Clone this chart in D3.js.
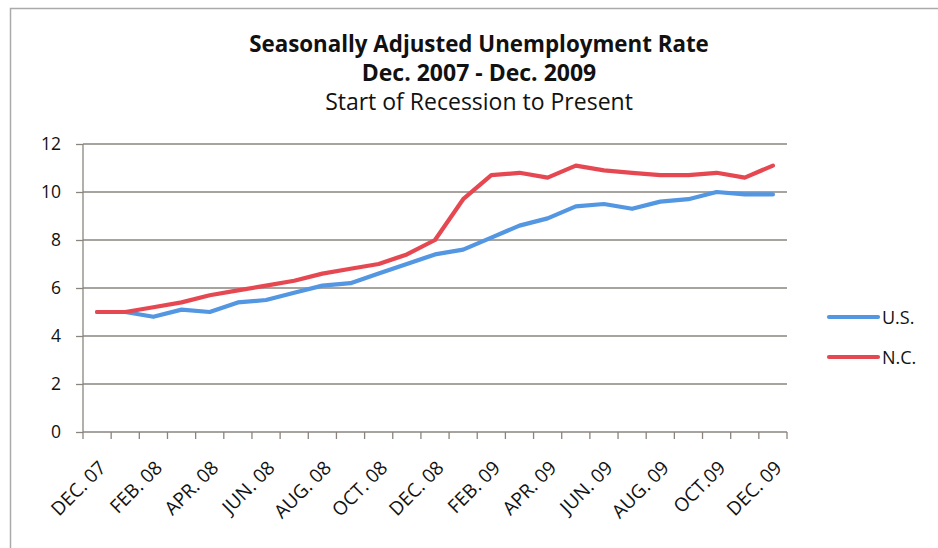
<!DOCTYPE html>
<html>
<head>
<meta charset="utf-8">
<script src="https://cdn.jsdelivr.net/npm/d3@7"></script>
<style>
  html, body { margin: 0; padding: 0; background: #fff; }
  svg { display: block; font-family: "Open Sans", Lato, sans-serif; }
</style>
</head>
<body>
<svg id="chart" width="938" height="548"></svg>
<script>
// Monthly categories, Dec 2007 through Dec 2009
const months = [
  "DEC. 07", "JAN. 08", "FEB. 08", "MAR. 08", "APR. 08", "MAY 08", "JUN. 08",
  "JUL. 08", "AUG. 08", "SEP. 08", "OCT. 08", "NOV. 08", "DEC. 08",
  "JAN. 09", "FEB. 09", "MAR. 09", "APR. 09", "MAY 09", "JUN. 09",
  "JUL. 09", "AUG. 09", "SEP. 09", "OCT.09", "NOV. 09", "DEC. 09"
];
// Labelled months on the category axis
const labelledMonths = [
  "DEC. 07", "FEB. 08", "APR. 08", "JUN. 08", "AUG. 08", "OCT. 08", "DEC. 08",
  "FEB. 09", "APR. 09", "JUN. 09", "AUG. 09", "OCT.09", "DEC. 09"
];
// Seasonally adjusted unemployment rate (%)
const usRate = [5.0, 5.0, 4.8, 5.1, 5.0, 5.4, 5.5, 5.8, 6.1, 6.2, 6.6, 7.0, 7.4,
                7.6, 8.1, 8.6, 8.9, 9.4, 9.5, 9.3, 9.6, 9.7, 10.0, 9.9, 9.9];
const ncRate = [5.0, 5.0, 5.2, 5.4, 5.7, 5.9, 6.1, 6.3, 6.6, 6.8, 7.0, 7.4, 8.0,
                9.7, 10.7, 10.8, 10.6, 11.1, 10.9, 10.8, 10.7, 10.7, 10.8, 10.6, 11.1];
const yTicks = [0, 2, 4, 6, 8, 10, 12];
const seriesNames = ["U.S.", "N.C."];
const seriesColors = ["#5396e2", "#e64852"];

const svg = d3.select("#chart");
const gridColor = "#8a847e";

// Outer frame
svg.append("rect")
  .attr("x", 10.5).attr("y", 8.5)
  .attr("width", 940).attr("height", 560)
  .attr("fill", "none").attr("stroke", "#aaa").attr("stroke-width", 1.5);

// Titles, each sized to its target line width
const titles = [
  { text: "Seasonally Adjusted Unemployment Rate", y: 52, weight: 700, width: 460 },
  { text: "Dec. 2007 - Dec. 2009", y: 81, weight: 700, width: 250 },
  { text: "Start of Recession to Present", y: 110, weight: 400, width: 312 }
];
svg.selectAll("text.title").data(titles).join("text")
  .attr("class", "title")
  .attr("x", 479).attr("y", d => d.y)
  .attr("text-anchor", "middle")
  .attr("font-size", 20)
  .attr("font-weight", d => d.weight)
  .attr("fill", "#111")
  .text(d => d.text)
  .each(function (d) {
    const w = this.getComputedTextLength();
    d3.select(this).attr("font-size", Math.min(23, 20 * d.width / w));
  });

// Scales
const x = d3.scaleBand().domain(months).range([83, 787]).padding(0);
const y = d3.scaleLinear().domain([0, 12]).range([432, 144]);
const cx = m => x(m) + x.bandwidth() / 2;

// Horizontal gridlines
svg.append("g").selectAll("line").data(yTicks.filter(v => v > 0)).join("line")
  .attr("x1", 83).attr("x2", 787)
  .attr("y1", d => y(d)).attr("y2", d => y(d))
  .attr("stroke", gridColor).attr("stroke-width", 1.3);

// Y axis
const yAxis = svg.append("g")
  .attr("transform", "translate(83,0)")
  .call(d3.axisLeft(y).tickValues(yTicks).tickSize(7).tickPadding(15).tickFormat(d3.format("d")));
yAxis.selectAll("line, path").attr("stroke", gridColor).attr("stroke-width", 1.3);
yAxis.select(".domain").attr("d", "M0," + y(12) + "V" + y(0));
yAxis.selectAll("text")
  .attr("font-family", "'Open Sans', sans-serif").attr("font-size", 17.5).attr("fill", "#111");

// X axis: labels at every other month, ticks on category boundaries
const xAxis = svg.append("g")
  .attr("transform", "translate(0,432)")
  .call(d3.axisBottom(x).tickValues(labelledMonths).tickSize(0).tickPadding(0));
xAxis.select(".domain").attr("stroke", gridColor).attr("stroke-width", 1.3)
  .attr("d", "M83,0H787");
xAxis.selectAll("text")
  .attr("font-family", "'Open Sans', sans-serif").attr("font-size", 19).attr("fill", "#111")
  .attr("text-anchor", "end")
  .attr("dy", 0).attr("y", 0)
  .attr("transform", "translate(10,37) rotate(-45)");

svg.append("g").selectAll("line").data(d3.range(months.length + 1)).join("line")
  .attr("x1", i => x.range()[0] + i * x.step())
  .attr("x2", i => x.range()[0] + i * x.step())
  .attr("y1", 432).attr("y2", 439)
  .attr("stroke", gridColor).attr("stroke-width", 1.3);

// Series lines
const series = [usRate, ncRate];
const line = d3.line().x((d, i) => cx(months[i])).y(d => y(d));
svg.append("g").selectAll("path").data(series).join("path")
  .attr("d", d => line(d))
  .attr("fill", "none")
  .attr("stroke", (d, i) => seriesColors[i])
  .attr("stroke-width", 4.2)
  .attr("stroke-linejoin", "round")
  .attr("stroke-linecap", "round");

// Legend
const legend = svg.append("g").selectAll("g").data(seriesNames).join("g")
  .attr("transform", (d, i) => `translate(829,${317 + i * 40})`);
legend.append("line")
  .attr("x1", 0).attr("x2", 49).attr("y1", 0).attr("y2", 0)
  .attr("stroke", (d, i) => seriesColors[i]).attr("stroke-width", 4.2)
  .attr("stroke-linecap", "round");
legend.append("text")
  .attr("x", 53).attr("y", 6.5)
  .attr("font-size", 18).attr("fill", "#111")
  .text(d => d);
</script>
</body>
</html>
